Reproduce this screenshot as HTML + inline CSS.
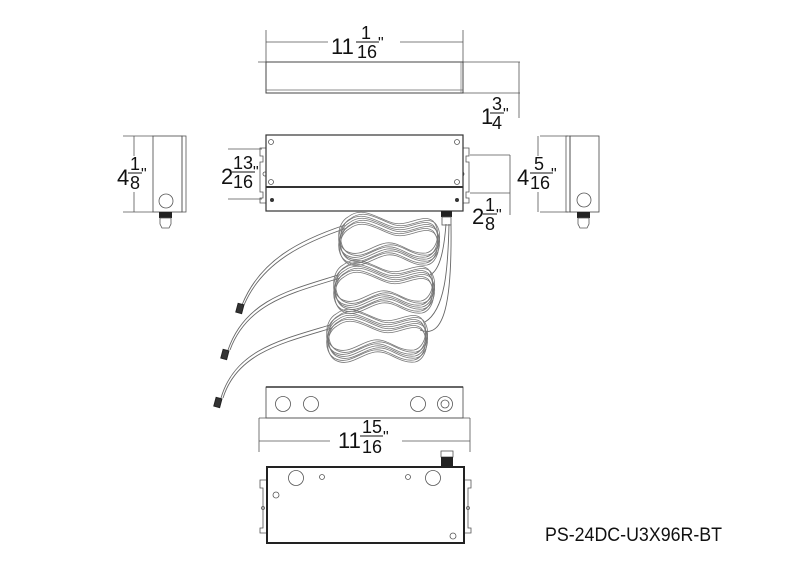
<!DOCTYPE html>
<html><head><meta charset="utf-8"><style>
html,body{margin:0;padding:0;background:#fff;}
svg{display:block;}
text{font-family:"Liberation Sans",sans-serif;fill:#111;}
</style></head><body>
<svg width="800" height="566" viewBox="0 0 800 566" xmlns="http://www.w3.org/2000/svg">
<defs>
<g id="coil" fill="none" stroke="#777" stroke-width="0.8">
<path d="M10,6 C25,-6 40,8 55,12 C70,16 85,2 95,10 C104,20 99,40 88,42 C72,44 62,30 48,32 C34,34 22,48 8,40 C-3,33 -1,12 10,6 Z"/>
</g>
</defs>
<g stroke="#555" stroke-width="0.8" fill="none">
<line x1="266" y1="30" x2="266" y2="62"/><line x1="463" y1="30" x2="463" y2="62"/>
<line x1="266" y1="42" x2="328" y2="42"/><line x1="400" y1="42" x2="463" y2="42"/>
<line x1="258" y1="62" x2="520" y2="62"/>
<line x1="463" y1="93" x2="520" y2="93"/>
<line x1="519" y1="62" x2="519" y2="118"/>
</g>
<rect x="266" y="62" width="197" height="31" fill="none" stroke="#444" stroke-width="1"/>
<line x1="266" y1="90" x2="463" y2="90" stroke="#666" stroke-width="0.8"/>
<line x1="461" y1="62" x2="461" y2="93" stroke="#888" stroke-width="0.8"/>
<text x="331" y="54" font-size="22">11</text>
<text x="361" y="39" font-size="18">1</text>
<line x1="356" y1="42" x2="379" y2="42" stroke="#111" stroke-width="1"/>
<text x="357" y="58" font-size="18">16</text>
<text x="378" y="48" font-size="16">"</text>
<text x="481" y="124" font-size="22">1</text>
<text x="492" y="110" font-size="18">3</text>
<line x1="490" y1="113" x2="504" y2="113" stroke="#111" stroke-width="1"/>
<text x="492" y="129" font-size="18">4</text>
<text x="503" y="119" font-size="16">"</text>

<g stroke="#555" stroke-width="0.8" fill="none">
<line x1="228" y1="149" x2="262" y2="149"/><line x1="228" y1="199" x2="262" y2="199"/>
<line x1="470" y1="155" x2="510" y2="155"/><line x1="470" y1="193" x2="510" y2="193"/>
<line x1="510" y1="155" x2="510" y2="215"/>
<path d="M266,148 h-6 v8 h3 v6 h-3 v30 h3 v6 h-3 v5 h6"/>
<path d="M463,148 h6 v8 h-3 v6 h3 v30 h-3 v6 h3 v5 h-6"/>
<circle cx="462" cy="174" r="2"/><circle cx="265" cy="174" r="2"/>
</g>
<rect x="266" y="135" width="197" height="76" fill="#fff" stroke="#333" stroke-width="1.2"/>
<line x1="266" y1="187" x2="463" y2="187" stroke="#333" stroke-width="2"/>
<g fill="none" stroke="#555" stroke-width="0.8">
<circle cx="271" cy="142" r="2.5"/><circle cx="457" cy="142" r="2.5"/>
<circle cx="271" cy="182" r="2.5"/><circle cx="457" cy="182" r="2.5"/>
</g>
<circle cx="272" cy="200" r="2" fill="#333"/><circle cx="457" cy="200" r="2" fill="#333"/>
<text x="221" y="184" font-size="22">2</text>
<text x="233" y="169" font-size="18">13</text>
<line x1="232" y1="172" x2="255" y2="172" stroke="#111" stroke-width="1"/>
<text x="233" y="188" font-size="18">16</text>
<text x="253" y="177" font-size="16">"</text>
<text x="472" y="224" font-size="22">2</text>
<text x="485" y="211" font-size="18">1</text>
<line x1="483" y1="214" x2="497" y2="214" stroke="#111" stroke-width="1"/>
<text x="485" y="230" font-size="18">8</text>
<text x="496" y="220" font-size="16">"</text>

<rect x="441" y="211" width="11" height="6" fill="#222"/>
<rect x="442" y="217" width="9" height="8" fill="#fff" stroke="#555" stroke-width="0.8"/>

<g stroke="#555" stroke-width="0.8" fill="none">
<line x1="123" y1="136" x2="153" y2="136"/><line x1="123" y1="212" x2="153" y2="212"/>
<line x1="134" y1="136" x2="134" y2="156"/><line x1="134" y1="192" x2="134" y2="212"/>
<rect x="153" y="136" width="29" height="76" stroke="#444"/>
<rect x="182" y="136" width="4" height="76"/>
<circle cx="166" cy="201" r="7"/>
</g>
<rect x="159" y="212" width="13" height="6" fill="#222"/>
<path d="M160,218 h11 v6 l-2,4 h-7 l-2,-4z" fill="#fff" stroke="#555" stroke-width="0.8"/>
<text x="117" y="185" font-size="22">4</text>
<text x="130" y="170" font-size="18">1</text>
<line x1="128" y1="173" x2="142" y2="173" stroke="#111" stroke-width="1"/>
<text x="130" y="189" font-size="18">8</text>
<text x="141" y="179" font-size="16">"</text>

<g stroke="#555" stroke-width="0.8" fill="none">
<line x1="540" y1="136" x2="568" y2="136"/><line x1="540" y1="212" x2="568" y2="212"/>
<line x1="538" y1="136" x2="538" y2="156"/><line x1="538" y1="192" x2="538" y2="212"/>
<rect x="566" y="136" width="4" height="76"/>
<rect x="570" y="136" width="29" height="76" stroke="#444"/>
<circle cx="584" cy="200" r="7"/>
</g>
<rect x="577" y="212" width="13" height="6" fill="#222"/>
<path d="M578,218 h11 v6 l-2,4 h-7 l-2,-4z" fill="#fff" stroke="#555" stroke-width="0.8"/>
<text x="517" y="185" font-size="22">4</text>
<text x="534" y="170" font-size="18">5</text>
<line x1="530" y1="173" x2="553" y2="173" stroke="#111" stroke-width="1"/>
<text x="530" y="189" font-size="18">16</text>
<text x="551" y="179" font-size="16">"</text>

<g fill="none" stroke="#666" stroke-width="0.9">
<path d="M446,224 C444,250 440,270 430,275"/>
<path d="M449,224 C448,270 445,310 425,322"/>
<path d="M451,224 C452,300 445,340 420,330"/>
<path d="M345,225 C300,240 260,260 242,305"/>
<path d="M347,228 C302,243 262,263 244,305"/>
<path d="M338,275 C290,290 245,300 228,350"/>
<path d="M340,278 C292,293 247,303 230,350"/>
<path d="M330,325 C280,340 235,350 221,398"/>
<path d="M332,328 C282,343 237,353 223,398"/>
</g>
<g>
<use href="#coil" x="338" y="215"/><use href="#coil" x="339" y="217"/><use href="#coil" x="340" y="219"/><use href="#coil" x="338" y="221"/><use href="#coil" x="339" y="223"/><use href="#coil" x="340" y="213"/><use href="#coil" x="338" y="211"/>
<use href="#coil" x="333" y="263"/><use href="#coil" x="334" y="265"/><use href="#coil" x="335" y="267"/><use href="#coil" x="333" y="269"/><use href="#coil" x="334" y="271"/><use href="#coil" x="335" y="261"/><use href="#coil" x="333" y="259"/>
<use href="#coil" x="326" y="312"/><use href="#coil" x="327" y="314"/><use href="#coil" x="328" y="316"/><use href="#coil" x="326" y="318"/><use href="#coil" x="327" y="320"/><use href="#coil" x="328" y="310"/><use href="#coil" x="326" y="308"/>
</g>
<g fill="#333" stroke="#222">
<rect x="237" y="304" width="6" height="9" transform="rotate(15 240 308)"/>
<rect x="222" y="350" width="6" height="9" transform="rotate(15 225 354)"/>
<rect x="215" y="398" width="6" height="9" transform="rotate(15 218 402)"/>
</g>

<g stroke="#555" stroke-width="0.8" fill="none">
<rect x="266" y="387" width="197" height="31" stroke="#444"/>
<line x1="266" y1="387" x2="463" y2="387" stroke="#333" stroke-width="1.5"/>
<circle cx="283" cy="404" r="7.5"/><circle cx="311" cy="404" r="7.5"/>
<circle cx="418" cy="404" r="7.5"/><circle cx="445" cy="404" r="7.5"/><circle cx="445" cy="404" r="4"/>
<line x1="259" y1="418" x2="470" y2="418"/>
<line x1="259" y1="418" x2="259" y2="452"/><line x1="470" y1="418" x2="470" y2="452"/>
<line x1="259" y1="441" x2="330" y2="441"/><line x1="402" y1="441" x2="470" y2="441"/>
</g>
<text x="338" y="448" font-size="22">11</text>
<text x="362" y="433" font-size="18">15</text>
<line x1="360" y1="436" x2="383" y2="436" stroke="#111" stroke-width="1"/>
<text x="362" y="453" font-size="18">16</text>
<text x="383" y="442" font-size="16">"</text>

<g stroke="#555" stroke-width="0.8" fill="none">
<path d="M267,480 h-7 v8 h3 v40 h-3 v5 h7"/>
<path d="M464,480 h7 v8 h-3 v40 h3 v5 h-7"/>
<circle cx="263" cy="508" r="1.5"/><circle cx="468" cy="508" r="1.5"/>
</g>
<rect x="441" y="451" width="12" height="6" fill="#fff" stroke="#555" stroke-width="0.8"/>
<rect x="441" y="457" width="12" height="10" fill="#222"/>
<rect x="267" y="467" width="197" height="76" fill="none" stroke="#222" stroke-width="2"/>
<g stroke="#555" stroke-width="0.8" fill="none">
<circle cx="296" cy="478" r="7.5"/><circle cx="433" cy="478" r="7.5"/>
<circle cx="322" cy="477" r="2.5"/><circle cx="408" cy="477" r="2.5"/>
<circle cx="276" cy="495" r="3"/><circle cx="453" cy="536" r="3"/>
</g>

<text x="545" y="541" font-size="19" textLength="177" lengthAdjust="spacingAndGlyphs">PS-24DC-U3X96R-BT</text>
</svg>
</body></html>
